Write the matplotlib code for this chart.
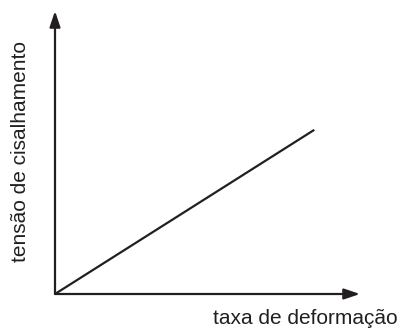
import matplotlib
matplotlib.use("Agg")
import matplotlib.pyplot as plt

# data
strain_rate = [0, 8.5]
shear_stress = [0, 5.8]
x_label = "taxa de deformação"
y_label = "tensão de cisalhamento"

W, H = 404, 331
fig = plt.figure(figsize=(W / 100, H / 100), dpi=100)
ox, oy = 55, 294
tx, ty = 360, 11
ax = fig.add_axes([ox / W, (H - oy) / H, (tx - ox) / W, (oy - ty) / H])
ax.set_xlim(0, 10)
ax.set_ylim(0, 10)
ax.axis("off")

ax.plot(strain_rate, shear_stress, color="#231f20", lw=1.6, solid_capstyle="butt", clip_on=False)

arrow = dict(arrowstyle="-|>,head_length=0.95,head_width=0.32", color="#231f20", lw=1.6,
             shrinkA=0, shrinkB=0)
ax.annotate("", xy=(1, 0), xytext=(0, 0), xycoords="axes fraction", arrowprops=arrow)
ax.annotate("", xy=(0, 1), xytext=(0, 0), xycoords="axes fraction", arrowprops=arrow)

font = dict(family=["Liberation Sans", "DejaVu Sans"], fontsize=15, color="#231f20")
fig.text(398 / W, 1 - 319 / H, x_label, ha="right", va="center", **font)
fig.text(21 / W, 1 - 152 / H, y_label, ha="center", va="center", rotation=90, **font)

fig.savefig("out.png", dpi=100, facecolor="white")
